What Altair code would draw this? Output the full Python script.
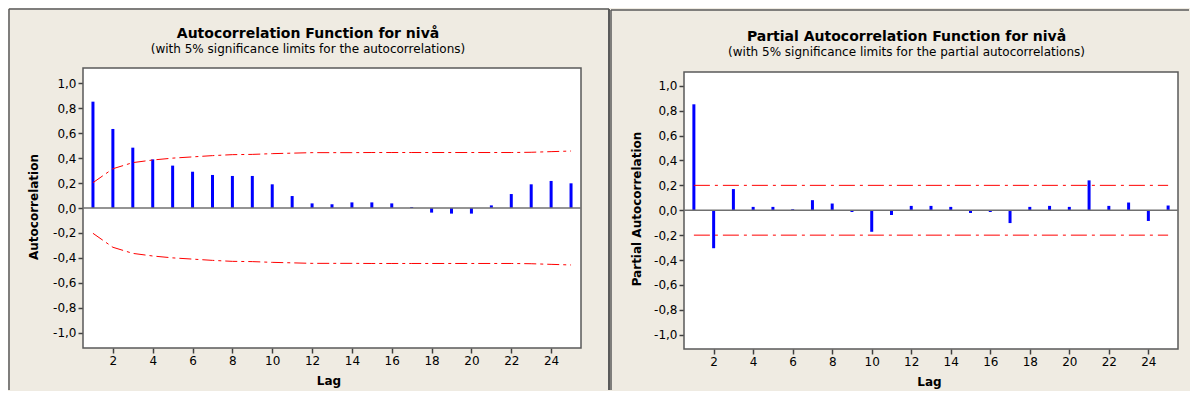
import altair as alt
import pandas as pd

# ---------------- data ----------------
lags = list(range(1, 26))
acf = [0.853, 0.634, 0.484, 0.390, 0.340, 0.291, 0.265, 0.257, 0.257, 0.190,
       0.096, 0.037, 0.030, 0.045, 0.045, 0.037, 0.008, -0.037, -0.045, -0.045,
       0.021, 0.112, 0.190, 0.217, 0.198]
acf_upper = [0.203, 0.315, 0.364, 0.385, 0.400, 0.410, 0.420, 0.428, 0.430, 0.436,
             0.440, 0.444, 0.444, 0.444, 0.445, 0.445, 0.445, 0.445, 0.445, 0.445,
             0.445, 0.445, 0.447, 0.452, 0.457]
acf_lower = [-0.203, -0.315, -0.364, -0.385, -0.400, -0.410, -0.420, -0.428, -0.430, -0.436,
             -0.440, -0.444, -0.444, -0.444, -0.445, -0.445, -0.445, -0.445, -0.445, -0.445,
             -0.445, -0.445, -0.447, -0.452, -0.457]
pacf = [0.851, -0.305, 0.170, 0.027, 0.027, 0.008, 0.081, 0.054, -0.014, -0.173,
        -0.038, 0.035, 0.035, 0.027, -0.022, -0.014, -0.103, 0.027, 0.035, 0.027,
        0.240, 0.035, 0.062, -0.086, 0.038]
pacf_limit_lags = [1, 25]
pacf_upper = [0.2, 0.2]
pacf_lower = [-0.2, -0.2]

x_ticks = [2, 4, 6, 8, 10, 12, 14, 16, 18, 20, 22, 24]
y_ticks = [-1.0, -0.8, -0.6, -0.4, -0.2, 0.0, 0.2, 0.4, 0.6, 0.8, 1.0]

titles = ["Autocorrelation Function for nivå", "Partial Autocorrelation Function for nivå"]
subtitles = ["(with 5% significance limits for the autocorrelations)",
             "(with 5% significance limits for the partial autocorrelations)"]
ytitles = ["Autocorrelation", "Partial Autocorrelation"]
xtitle = "Lag"

# ---------------- style ----------------
FONT = "DejaVu Sans, Verdana, sans-serif"
BEIGE = "#EFEBE2"
FRAME = "#5A5A5A"
BLUE = "#0000FF"
RED = "#FF0000"

one = pd.DataFrame({"d": [0]})


def panel(values, lim_lags, upper, lower, title, subtitle, ytitle,
          w, h, ydom, dash, frame, plot_top, tpos, right_border):
    df = pd.DataFrame({"lag": lags, "r": values})
    lim = pd.DataFrame({"lag": lim_lags + lim_lags,
                        "v": upper + lower,
                        "side": ["upper"] * len(upper) + ["lower"] * len(lower)})
    xs = alt.Scale(domain=[0.5, 25.5], nice=False, zero=False)
    ys = alt.Scale(domain=ydom, nice=False, zero=False)
    xax = alt.Axis(values=x_ticks, format="d", title=None, grid=False,
                   labelOverlap=False, labelFlush=False)
    yax = alt.Axis(values=y_ticks, title=None, grid=False, labelOverlap=False, labelFlush=False,
                   labelExpr="(datum.value < -0.0001 ? '-' : '') + replace(format(abs(datum.value), '.1f'), '.', ',')")

    # plot area (white box with border)
    box = alt.Chart(one).mark_rect(fill="white", stroke=FRAME, strokeWidth=1.5).encode(
        x=alt.value(0), x2=alt.value(w), y=alt.value(plot_top), y2=alt.value(h))

    bars = alt.Chart(df).mark_rule(color=BLUE, strokeWidth=3, strokeCap="butt").encode(
        x=alt.X("lag:Q", scale=xs, axis=xax),
        y=alt.Y("r:Q", scale=ys, axis=yax),
        y2=alt.datum(0),
    )
    zero = alt.Chart(one).mark_rule(color="#707070", strokeWidth=1.5).encode(
        y=alt.Y(datum=0, scale=ys, axis=yax))
    lines = alt.Chart(lim).mark_line(color=RED, strokeWidth=1, strokeDash=dash).encode(
        x=alt.X("lag:Q", scale=xs, axis=xax),
        y=alt.Y("v:Q", scale=ys, axis=yax),
        detail="side:N")

    fl, ft, fr, fb = frame
    frame_marks = [
        alt.Chart(one).mark_rule(color=FRAME, strokeWidth=1.5).encode(
            x=alt.value(fl), y=alt.value(ft), y2=alt.value(fb)),
        alt.Chart(one).mark_rule(color=FRAME, strokeWidth=1.5).encode(
            x=alt.value(fl), x2=alt.value(fr), y=alt.value(ft)),
    ]
    if right_border:
        frame_marks.append(alt.Chart(one).mark_rule(color=FRAME, strokeWidth=2).encode(
            x=alt.value(fr), y=alt.value(ft), y2=alt.value(fb)))

    def txt(s, x, y, size, weight="normal", angle=0):
        kw = dict(text=s, font=FONT, fontSize=size, fontWeight=weight, color="black",
                  align="center", baseline="middle")
        if angle:
            kw["angle"] = angle
        return alt.Chart(one).mark_text(**kw).encode(x=alt.value(x), y=alt.value(y))

    texts = [
        txt(title, tpos["tx"], tpos["ty"], 14, "bold"),
        txt(subtitle, tpos["tx"], tpos["sy"], 12),
        txt(ytitle, tpos["yx"], tpos["yy"], 12, "bold", 270),
        txt(xtitle, tpos["lx"], tpos["ly"], 12, "bold"),
    ]
    return alt.layer(*frame_marks, box, bars, zero, lines, *texts).properties(width=w, height=h)


left = panel(acf, lags, acf_upper, acf_lower, titles[0], subtitles[0], ytitles[0],
             498, 280, [-1.123, 1.123], [12, 4, 3, 4],
             (-74, -59, 526, 322), 0,
             dict(tx=225, ty=-34, sy=-19, yx=-49, yy=139, lx=246, ly=313),
             True)
right = panel(pacf, pacf_limit_lags, pacf_upper, pacf_lower, titles[1], subtitles[1], ytitles[1],
              494, 281, [-1.1145, 1.1426], [16, 5, 3, 5],
              (-73, -58, 505, 322), 4,
              dict(tx=222.5, ty=-31, sy=-16, yx=-47.5, yy=141, lx=245.5, ly=314),
              False)

chart = alt.hconcat(left, right, spacing=0).properties(
    padding={"left": 0, "top": 0, "right": 0, "bottom": 0}
).configure(background=BEIGE).configure_view(
    strokeWidth=0
).configure_axis(
    domain=False, tickColor="#404040", tickSize=5, tickWidth=1.5, labelOverlap=False,
    labelFont=FONT, labelFontSize=12, labelColor="black", labelPadding=2,
)

chart.save("out.html", embed_options={"renderer": "svg", "actions": False})
